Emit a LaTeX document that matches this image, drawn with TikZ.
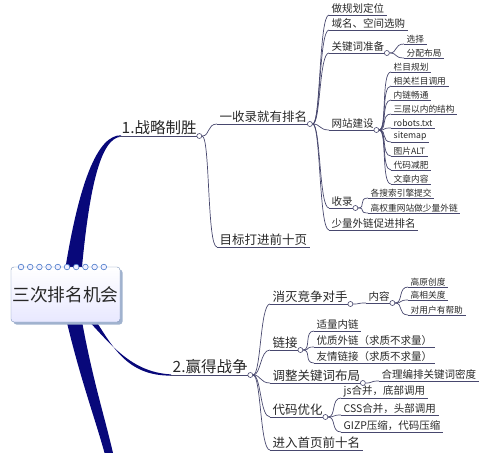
\documentclass[tikz,border=0pt]{standalone}
\usepackage{fontspec}
\setmainfont{Noto Sans CJK SC}
\usetikzlibrary{shapes}
\definecolor{branch}{RGB}{8,8,122}
\definecolor{twig}{RGB}{72,72,110}
\definecolor{ink}{RGB}{40,40,40}
\definecolor{rim}{RGB}{120,145,185}
\definecolor{coil}{RGB}{70,120,200}

\begin{document}
\begin{tikzpicture}[x=1pt,y=-1pt]
	\tikzstyle{u} = [draw=twig, line width=0.7pt]
	\tikzstyle{t} = [anchor=south west, inner xsep=2.5pt, inner ysep=1pt, text=ink,
		append after command={(\tikzlastnode.south west) edge[u] (\tikzlastnode.south east)}]
	\tikzstyle{l1} = [t, font=\fontsize{15.5}{16}\selectfont]
	\tikzstyle{l2} = [t, font=\fontsize{12.5}{13}\selectfont]
	\tikzstyle{l3} = [t, font=\fontsize{10.5}{11}\selectfont]
	\tikzstyle{l4} = [t, font=\fontsize{8.7}{9}\selectfont]
	\tikzstyle{o} = [circle, draw=twig, fill=white, inner sep=0pt, minimum size=5pt, line width=0.6pt]
	\tikzstyle{c} = [u, to path={.. controls +(8,0) and +(-10,0) .. (\tikztotarget)}]
	\tikzstyle{box} = [draw=rim, rounded corners=3pt, top color=white, bottom color=blue!9!white,
		minimum width=109pt, minimum height=55pt, inner sep=0pt, text=ink,
		font=\fontsize{17.7}{18}\selectfont]
	\useasboundingbox (0,0) rectangle (500,452);

	% thick main branches
	\fill[branch] (62,290) .. controls (78,180) and (98,135) .. (121,135.3)
		-- (121,136.7) .. controls (100,138) and (88,190) .. (80,290) -- cycle;
	\fill[branch] (80,312) .. controls (108,340) and (128,372) .. (171,374.4)
		-- (171,375.6) .. controls (126,376) and (112,345) .. (94,318) -- cycle;
	\fill[branch] (64,310) .. controls (80,380) and (96,420) .. (107,462)
		-- (115,462) .. controls (106,420) and (92,380) .. (80,310) -- cycle;

	% central topic
	\fill[rim!70] (13.5,269.5) [rounded corners=3pt] rectangle (122.5,324.5);
	\node[box] (is-root) at (65.5,294.5) {三次排名机会};
	\foreach \i in {0,...,9}
		\draw[coil, fill=blue!6!white, line width=0.6pt] (21+9.2*\i,267) circle (2.8);

	% 1
	\node[l1] (win) at (119,136) {1.战略制胜};
	\node[l2] (indexed) at (217,124) {一收录就有排名};
	\node[l2] (top-ten-pages) at (217,247) {目标打进前十页};
	\node[l3] (plan) at (329,15) {做规划定位};
	\node[l3] (domain) at (329,30) {域名、空间选购};
	\node[l3] (keywords) at (329,53) {关键词准备};
	\node[l4] (pick) at (404,44) {选择};
	\node[l4] (spread) at (404,58) {分配布局};
	\node[l3] (site) at (329,130) {网站建设};
	\node[l4] (columns) at (391,72) {栏目规划};
	\node[l4] (column-calls) at (391,86) {相关栏目调用};
	\node[l4] (inner-links) at (391,100) {内链畅通};
	\node[l4] (three-levels) at (391,114) {三层以内的结构};
	\node[l4] (robots) at (391,128) {robots.txt};
	\node[l4] (sitemap) at (391,142) {sitemap};
	\node[l4] (alt) at (391,156) {图片ALT};
	\node[l4] (slim) at (391,170) {代码减肥};
	\node[l4] (articles) at (391,184) {文章内容};
	\node[l3] (crawl) at (329,208) {收录};
	\node[l4] (submit) at (368,198) {各搜索引擎提交};
	\node[l4] (strong-sites) at (368,213) {高权重网站做少量外链};
	\node[l3] (few-links) at (329,230) {少量外链促进排名};

	% 2
	\node[l1] (war) at (170,375) {2.赢得战争};
	\node[l2] (rivals) at (270,304) {消灭竞争对手};
	\node[l3] (content) at (366,303) {内容};
	\node[l4] (original) at (408,287) {高原创度};
	\node[l4] (relevant) at (408,300) {高相关度};
	\node[l4] (helpful) at (408,315) {对用户有帮助};
	\node[l2] (links) at (270,350) {链接};
	\node[l3] (inner) at (314,331) {适量内链};
	\node[l3] (outer) at (314,347) {优质外链（求质不求量）};
	\node[l3] (friends) at (314,363) {友情链接（求质不求量）};
	\node[l2] (kw-layout) at (270,383) {调整关键词布局};
	\node[l3] (density) at (379,381) {合理编排关键词密度};
	\node[l2] (code) at (270,417) {代码优化};
	\node[l3] (js) at (341,398) {js合并，底部调用};
	\node[l3] (css) at (341,415) {CSS合并，头部调用};
	\node[l3] (gzip) at (341,432) {GIZP压缩，代码压缩};
	\node[l2] (top-ten) at (270,450) {进入首页前十名};

	% branch points
	\node[o] (o-win) at (win.south east) {};
	\node[o] (o-indexed) at (indexed.south east) {};
	\node[o] (o-keywords) at (keywords.south east) {};
	\node[o] (o-site) at (site.south east) {};
	\node[o] (o-crawl) at (crawl.south east) {};
	\node[o] (o-war) at (war.south east) {};
	\node[o] (o-rivals) at (rivals.south east) {};
	\node[o] (o-content) at (content.south east) {};
	\node[o] (o-links) at (links.south east) {};
	\node[o] (o-kw-layout) at (kw-layout.south east) {};
	\node[o] (o-code) at (code.south east) {};

	% connectors
	\path (o-win.east) edge[c] (indexed.south west) edge[c] (top-ten-pages.south west);
	\path (o-indexed.east) edge[c] (plan.south west) edge[c] (domain.south west)
		edge[c] (keywords.south west) edge[c] (site.south west)
		edge[c] (crawl.south west) edge[c] (few-links.south west);
	\path (o-keywords.east) edge[c] (pick.south west) edge[c] (spread.south west);
	\path (o-site.east) edge[c] (columns.south west) edge[c] (column-calls.south west)
		edge[c] (inner-links.south west) edge[c] (three-levels.south west)
		edge[c] (robots.south west) edge[c] (sitemap.south west)
		edge[c] (alt.south west) edge[c] (slim.south west) edge[c] (articles.south west);
	\path (o-crawl.east) edge[c] (submit.south west) edge[c] (strong-sites.south west);
	\path (o-war.east) edge[c] (rivals.south west) edge[c] (links.south west)
		edge[c] (kw-layout.south west) edge[c] (code.south west) edge[c] (top-ten.south west);
	\path (o-rivals.east) edge[c] (content.south west);
	\path (o-content.east) edge[c] (original.south west) edge[c] (relevant.south west)
		edge[c] (helpful.south west);
	\path (o-links.east) edge[c] (inner.south west) edge[c] (outer.south west)
		edge[c] (friends.south west);
	\path (o-kw-layout.east) edge[c] (density.south west);
	\path (o-code.east) edge[c] (js.south west) edge[c] (css.south west) edge[c] (gzip.south west);
\end{tikzpicture}
\end{document}
